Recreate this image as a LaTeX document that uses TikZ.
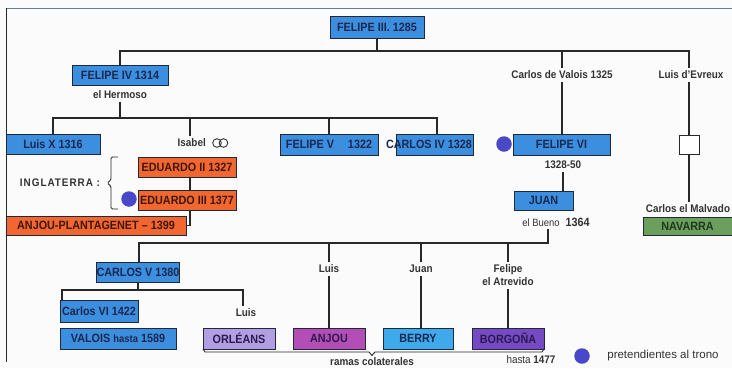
\documentclass[tikz,border=0pt]{standalone}
\usepackage{fontspec}
\setmainfont{Liberation Sans}[FakeStretch=0.9]
\newfontfamily\legendfont{Liberation Sans}
\newfontfamily\spacedfont{Liberation Sans}[FakeStretch=0.9,LetterSpace=9]
\definecolor{boxblue}{RGB}{60,142,222}
\definecolor{boxorange}{RGB}{242,102,48}
\definecolor{boxgreen}{RGB}{108,158,94}
\definecolor{boxlav}{RGB}{178,158,226}
\definecolor{boxmag}{RGB}{178,78,182}
\definecolor{boxsky}{RGB}{62,170,236}
\definecolor{boxpurp}{RGB}{118,74,196}
\definecolor{dotblue}{RGB}{72,72,200}
\definecolor{connc}{RGB}{40,40,40}
\definecolor{navy}{RGB}{26,40,78}
\definecolor{brownt}{RGB}{60,24,12}
\definecolor{greent}{RGB}{28,58,28}
\definecolor{purpt}{RGB}{44,26,78}
\definecolor{lbltext}{RGB}{50,50,50}
\definecolor{rimline}{RGB}{34,40,60}
\definecolor{framec}{RGB}{100,125,145}
\begin{document}
\begin{tikzpicture}[x=1pt,y=-1pt,
  box/.style={draw=rimline, line width=0.9pt, inner sep=0pt, font=\bfseries\fontsize{12}{12}\selectfont},
  bluebox/.style={box, fill=boxblue, text=navy},
  orangebox/.style={box, fill=boxorange, text=brownt},
  greenbox/.style={box, fill=boxgreen, text=greent},
  lavbox/.style={box, fill=boxlav, text=purpt},
  magbox/.style={box, fill=boxmag, text=purpt},
  skybox/.style={box, fill=boxsky, text=navy},
  purpbox/.style={box, fill=boxpurp, text=purpt},
  boxtext/.style={inner sep=0pt, font=\bfseries\fontsize{12}{12}\selectfont, text=navy},
  lbl/.style={inner sep=2.5pt, font=\bfseries\fontsize{11}{13}\selectfont, text=lbltext},
  conn/.style={draw=connc, line width=1.6pt},
  thinline/.style={draw=connc, line width=0.9pt},
  dotnode/.style={circle, fill=dotblue, inner sep=0pt, minimum size=15.5},
  ring/.style={draw=lbltext, line width=0.9pt}]
\useasboundingbox (0,0) rectangle (732,368);
\fill[white!97!gray] (0,0) rectangle (732,368);
% frame
\draw[framec, line width=1pt] (6,8) -- (732,8);
\draw[connc, line width=1pt] (6,8) -- (6,362);

% top generation
\node[bluebox, minimum width=94, minimum height=22] (f3) at (377,27) {FELIPE III. 1285};
\node[bluebox, minimum width=96, minimum height=20] (f4) at (120,75) {FELIPE IV 1314};
\node[lbl] (hermoso) at (120,95) {el Hermoso};
\node[lbl] (valois) at (562,75) {Carlos de Valois 1325};
\node[lbl] (evreux) at (691,75) {Luis d’Evreux};

% second generation
\node[bluebox, minimum width=94, minimum height=20] (luisx) at (53,144) {Luis X 1316};
\node[lbl, anchor=west] (isabel) at (175,143) {Isabel};
\draw[ring] (217,143) circle (4.3);
\draw[ring] (223.5,143) circle (4.3);
\node[bluebox, minimum width=98, minimum height=21] (fv) at (329,144.5) {FELIPE V\hspace{14pt}1322};
\node[bluebox, minimum width=77, minimum height=21] (c4) at (434.5,144.5) {};
\node[boxtext] (c4t) at (429,144.5) {CARLOS IV 1328};
\node[bluebox, minimum width=97, minimum height=21] (f6) at (561.5,144.5) {FELIPE VI};
\node[dotnode] (d2) at (504,144) {};
\node[lbl] (f6d) at (563,165) {1328-50};
\node[draw=connc, fill=white, line width=1pt, minimum width=20, minimum height=19, inner sep=0pt] (sq) at (689,144.5) {};
\node[lbl] (malvado) at (688,209) {Carlos el Malvado};
\node[greenbox, minimum width=89, minimum height=18] (nav) at (687.5,226) {NAVARRA};

% England
\node[orangebox, minimum width=98, minimum height=20] (e2) at (187,167) {EDUARDO II 1327};
\node[orangebox, minimum width=98, minimum height=20] (e3) at (187,200) {EDUARDO III 1377};
\node[dotnode] (d1) at (129,199) {};
\node[inner sep=2.5pt, text=lbltext, font=\spacedfont\bfseries\fontsize{11}{13}\selectfont] (ingl) at (60,183) {INGLATERRA :};
\node[orangebox, minimum width=180, minimum height=19] (anjp) at (96,225.5) {ANJOU-PLANTAGENET -- 1399};
\draw[thinline, rounded corners=1.5pt] (118,157) -- (111,157) -- (111,180) -- (107,183) -- (111,186) -- (111,209) -- (118,209);

% Juan
\node[bluebox, minimum width=59, minimum height=19] (juan) at (543.5,200.5) {JUAN};
\node[lbl] (bueno) at (556,222) {{\mdseries\fontsize{10.5}{12}\selectfont el Bueno}\hspace{6pt}{\fontsize{12}{12}\selectfont 1364}};

% lower part
\node[bluebox, minimum width=82, minimum height=20] (c5) at (138,272) {CARLOS V 1380};
\node[bluebox, minimum width=78, minimum height=22] (c6) at (99,311) {Carlos VI 1422};
\node[lbl] (luis1) at (246,313) {Luis};
\node[bluebox, minimum width=116, minimum height=21] (valb) at (118,338.5) {VALOIS {\fontsize{10.5}{10}\selectfont hasta} 1589};
\node[lavbox, minimum width=72, minimum height=21] (orl) at (239,338.5) {ORLÉANS};
\node[magbox, minimum width=72, minimum height=21] (anj) at (329,338.5) {ANJOU};
\node[skybox, minimum width=70, minimum height=21] (ber) at (418,338.5) {BERRY};
\node[purpbox, minimum width=72, minimum height=21] (bor) at (508,338.5) {BORGOÑA};
\node[lbl] (luis2) at (329,269) {Luis};
\node[lbl] (juan2) at (421,269) {Juan};
\node[lbl, align=center] (felipe2) at (508,275.5) {Felipe\\el Atrevido};
\node[lbl] (ramas) at (372,362) {ramas colaterales};
\node[lbl] (hasta) at (531,360) {{\mdseries hasta} 1477};
\node[dotnode] (d3) at (582,356) {};
\node[inner sep=1pt, text=lbltext, font=\legendfont\fontsize{11.5}{12}\selectfont] (pret) at (663,356) {pretendientes al trono};

\draw[thinline] (203,349) -- (205,352) -- (369,352) -- (372,355.5) -- (375,352) -- (542,352) -- (544,349);

% connectors
\coordinate (b1l) at (120,51);
\coordinate (b1r) at (689,51);
\coordinate (b2l) at (53,118);
\coordinate (b2r) at (437,118);
\coordinate (isx) at (190,118);
\coordinate (b3l) at (139,243);
\coordinate (b3r) at (548,243);
\coordinate (b4l) at (62,290);
\coordinate (b4r) at (243,290);

\draw[conn] (f3.south) -- (f3.south |- b1l);
\draw[conn] (f4.north) -- (b1l) -- (b1r) -- (b1r |- evreux.north);
\draw[conn] (valois.north) -- (valois.north |- b1l);
\draw[conn] (valois.south) -- (valois.south |- f6.north);
\draw[conn] (b1r |- evreux.south) -- (sq.north);
\draw[conn] (sq.south) -- (sq.south |- malvado.north);
\draw[conn] (hermoso.south) -- (hermoso.south |- b2l);
\draw[conn] (luisx.north) -- (b2l) -- (b2r) -- (b2r |- c4.north);
\draw[conn] (fv.north) -- (fv.north |- b2l);
\draw[conn] (isx) -- (isx |- isabel.north);
\draw[conn] (isx |- e2.south) -- (isx |- e3.north);
\draw[conn] (isx |- e3.south) -- (isx |- anjp.east) -- (anjp.east);
\draw[conn] (f6d.south) -- (f6d.south |- juan.north);
\draw[conn] (b3r |- bueno.south) -- (b3r) -- (b3l) -- (b3l |- c5.north);
\draw[conn] (luis2.north) -- (luis2.north |- b3l);
\draw[conn] (juan2.north) -- (juan2.north |- b3l);
\draw[conn] (felipe2.north) -- (felipe2.north |- b3l);
\draw[conn] (luis2.south) -- (anj.north);
\draw[conn] (juan2.south) -- (juan2.south |- ber.north);
\draw[conn] (felipe2.south) -- (bor.north);
\draw[conn] (c5.south) -- (c5.south |- b4l);
\draw[conn] (b4l |- c6.north) -- (b4l) -- (b4r) -- (b4r |- luis1.north);
\end{tikzpicture}
\end{document}
